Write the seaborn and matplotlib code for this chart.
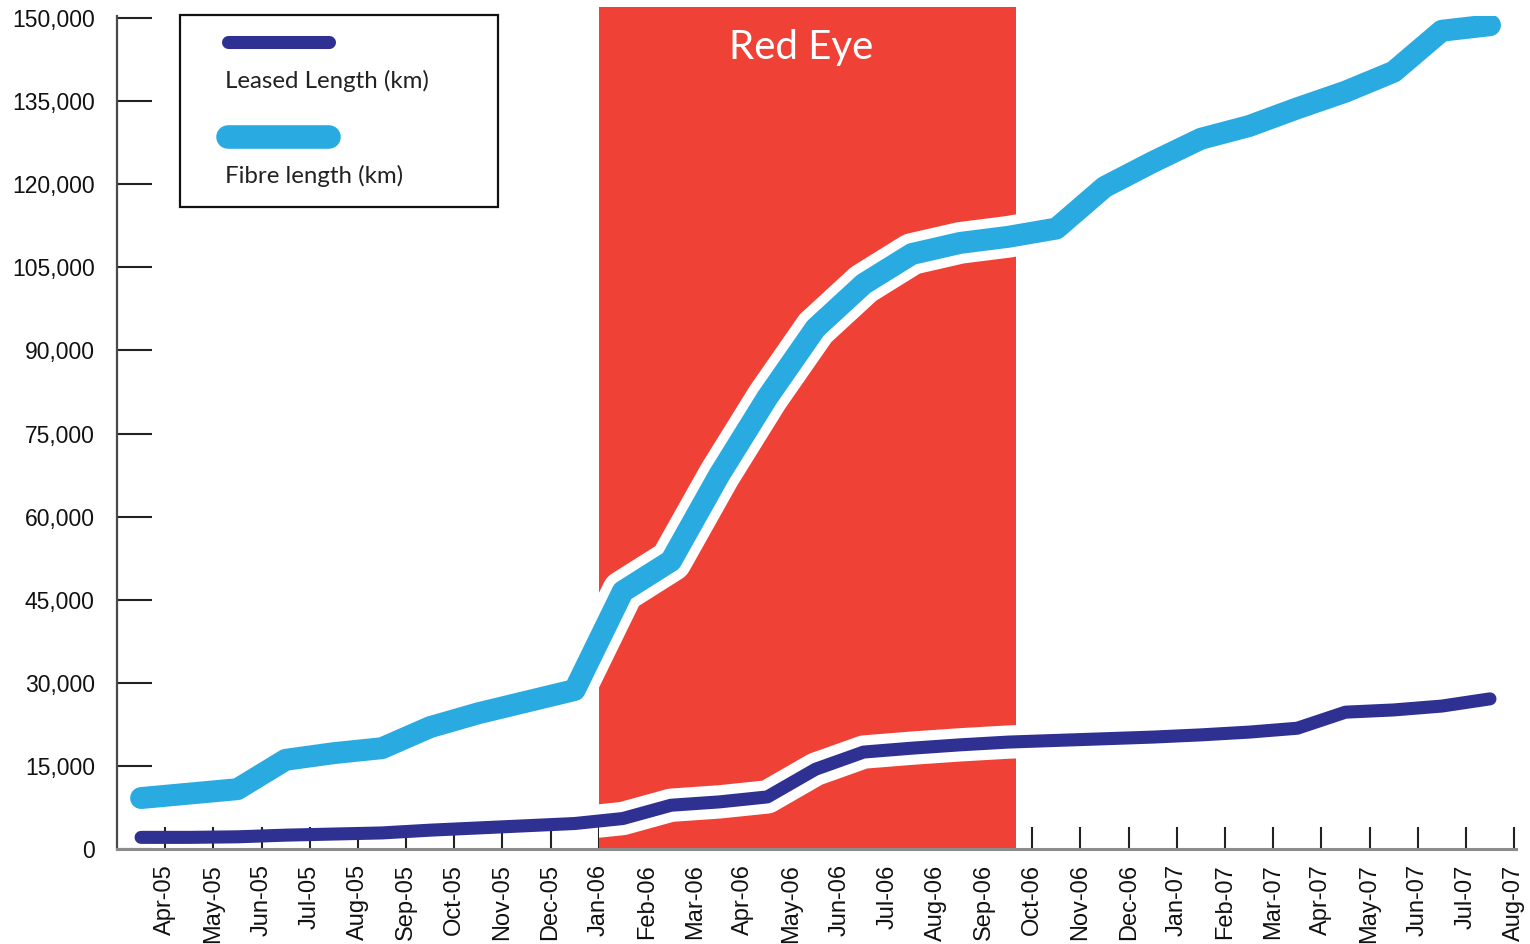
import numpy as np
import pandas as pd
import matplotlib
matplotlib.use("Agg")
import matplotlib.pyplot as plt
from matplotlib.lines import Line2D
from matplotlib.patches import Rectangle
from matplotlib import font_manager
import seaborn as sns

# ---------------- data ----------------
sample_months = ["Mar-05", "Apr-05", "May-05", "Jun-05", "Jul-05", "Aug-05", "Sep-05",
                 "Oct-05", "Nov-05", "Dec-05", "Jan-06", "Feb-06", "Mar-06", "Apr-06",
                 "May-06", "Jun-06", "Jul-06", "Aug-06", "Sep-06", "Oct-06", "Nov-06",
                 "Dec-06", "Jan-07", "Feb-07", "Mar-07", "Apr-07", "May-07", "Jun-07",
                 "Jul-07"]
leased_km = [2100, 2100, 2200, 2500, 2700, 2900, 3400, 3800, 4200, 4600,
             5500, 7900, 8500, 9400, 14400, 17500, 18200, 18800, 19300, 19600,
             19900, 20200, 20600, 21100, 21800, 24700, 25100, 25800, 27100]
fibre_km = [9200, 10000, 10800, 16100, 17300, 18200, 22000, 24500, 26600, 28700,
            46500, 52000, 67500, 81500, 94000, 102000, 107400, 109400, 110500, 112000,
            119500, 124000, 128200, 130500, 133700, 136700, 140300, 147700, 148700]
tick_labels = ["Apr-05", "May-05", "Jun-05", "Jul-05", "Aug-05", "Sep-05", "Oct-05",
               "Nov-05", "Dec-05", "Jan-06", "Feb-06", "Mar-06", "Apr-06", "May-06",
               "Jun-06", "Jul-06", "Aug-06", "Sep-06", "Oct-06", "Nov-06", "Dec-06",
               "Jan-07", "Feb-07", "Mar-07", "Apr-07", "May-07", "Jun-07", "Jul-07",
               "Aug-07"]
y_ticks = list(range(0, 150001, 15000))
red_eye_label = "Red Eye"
red_eye_start = "Jan-06"      # shaded period starts at the beginning of Jan-06
red_eye_end_month = "Sep-06"  # ... and ends about two thirds through Sep-06
red_eye_end_frac = 0.66
series_names = ["Leased Length (km)", "Fibre length (km)"]

# month index: month m starts at m, samples sit mid-month
month_index = {m: i for i, m in enumerate(sample_months + ["Aug-07"])}
x_mid = np.array([month_index[m] for m in sample_months]) + 0.5
df = pd.DataFrame({"x": x_mid, "leased": leased_km, "fibre": fibre_km})

# ---------------- style ----------------
LEASED = "#2E3192"
FIBRE = "#29ABE2"
RED = "#EF4136"

sns.set_theme(style="white")
names = {f.name for f in font_manager.fontManager.ttflist}
tick_font = "Liberation Sans Narrow" if "Liberation Sans Narrow" in names else "Liberation Sans"
label_font = "Lato" if "Lato" in names else "DejaVu Sans"
plt.rcParams["font.family"] = [tick_font, "DejaVu Sans"]

W, H = 1530, 944
fig = plt.figure(figsize=(W / 100, H / 100), dpi=100)
ax = fig.add_axes([117 / W, 1 - 849 / H, (1516 - 117) / W, (849 - 16) / H])

ax.set_xlim(0, 29.04)
ax.set_ylim(0, 150000 + 2 * 150000 / 831)

# red period
x0 = month_index[red_eye_start]
x1 = month_index[red_eye_end_month] + red_eye_end_frac
span = ax.axvspan(x0, x1, ymin=0, ymax=(849 - 7) / (849 - 16), color=RED,
                  lw=0, zorder=1, clip_on=False)

# white halos (visible on red only)
for col, lw in (("leased", 24), ("fibre", 30)):
    sns.lineplot(data=df, x="x", y=col, ax=ax, color="white", lw=lw,
                 solid_capstyle="round", solid_joinstyle="round", zorder=1.5,
                 legend=False)
    ax.lines[-1].set_clip_path(span)

# coloured lines
sns.lineplot(data=df, x="x", y="leased", ax=ax, color=LEASED, lw=9.4,
             solid_capstyle="round", solid_joinstyle="round", zorder=3, legend=False)
sns.lineplot(data=df, x="x", y="fibre", ax=ax, color=FIBRE, lw=15.8,
             solid_capstyle="round", solid_joinstyle="round", zorder=3, legend=False)

# axes styling
ax.set_xlabel("")
ax.set_ylabel("")
for s in ("top", "right"):
    ax.spines[s].set_visible(False)
ax.spines["left"].set_color("#4a4a4a")
ax.spines["left"].set_linewidth(1.6)
ax.spines["bottom"].set_color("#8c8c8c")
ax.spines["bottom"].set_linewidth(2.2)

ax.set_yticks(y_ticks)
ax.set_yticklabels([f"{v:,}" for v in y_ticks])
ax.set_xticks([month_index[m] for m in tick_labels])
ax.set_xticklabels(tick_labels, rotation=90, va="top", ha="center")

ax.tick_params(axis="y", direction="in", length=25, width=1.5, color="#222222",
               pad=16, labelsize=16.5, labelcolor="#111111", left=True)
ax.tick_params(axis="x", direction="in", length=16, width=1.5, color="#222222",
               pad=11, labelsize=17, labelcolor="#111111", bottom=True)
ax.grid(False)

# Red Eye label
fig.text(801 / W, 1 - 48 / H, red_eye_label, color="white", fontsize=29,
         family=[label_font, "DejaVu Sans"], ha="center", va="center")

# legend (custom layout: sample above label)
fig.patches.append(Rectangle((180 / W, 1 - 207 / H), (498 - 180) / W, (207 - 15) / H,
                             transform=fig.transFigure, fill=True, facecolor="white",
                             edgecolor="#111111", lw=1.6, zorder=5))
fig.lines.append(Line2D([228 / W, 329 / W], [1 - 42 / H] * 2, transform=fig.transFigure,
                        color=LEASED, lw=9.4, solid_capstyle="round", zorder=6))
fig.lines.append(Line2D([228 / W, 329 / W], [1 - 137 / H] * 2, transform=fig.transFigure,
                        color=FIBRE, lw=17, solid_capstyle="round", zorder=6))
fig.text(225 / W, 1 - 81 / H, series_names[0], fontsize=17.3, color="#222222",
         family=[label_font, "DejaVu Sans"], ha="left", va="center", zorder=6)
fig.text(225 / W, 1 - 176 / H, series_names[1], fontsize=17.3, color="#222222",
         family=[label_font, "DejaVu Sans"], ha="left", va="center", zorder=6)

fig.savefig("out.png", dpi=100)
